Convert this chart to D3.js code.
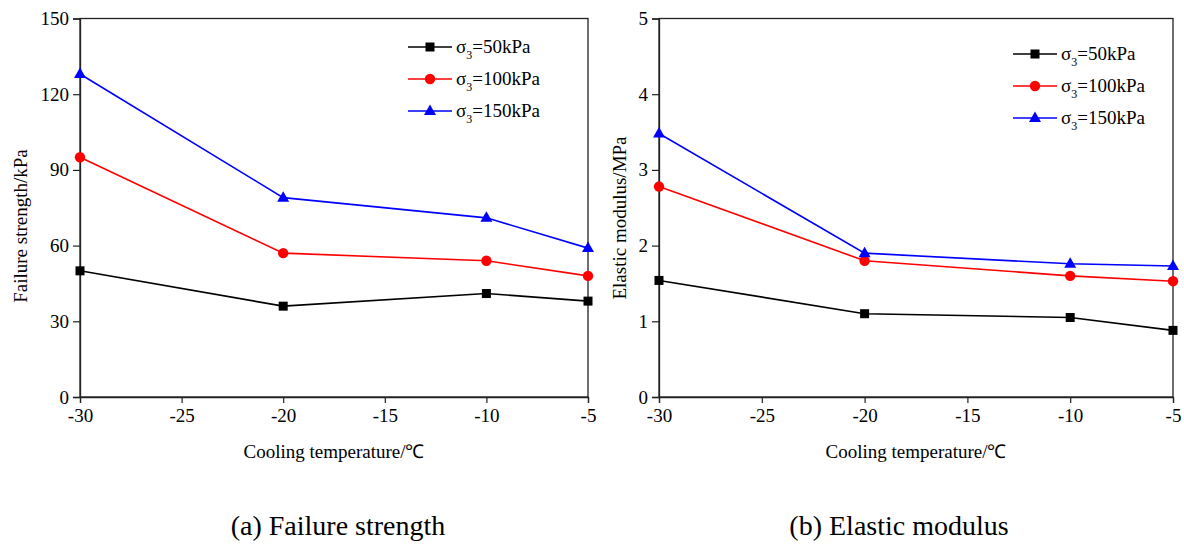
<!DOCTYPE html>
<html>
<head>
<meta charset="utf-8">
<script src="https://d3js.org/d3.v7.min.js"></script>
<style>
  body { margin: 0; background: #fff; }
  svg text { font-family: "Liberation Serif", "Times New Roman", serif; fill: #000; }
</style>
</head>
<body>
<svg id="chart" width="1184" height="545"></svg>
<script>
// cooling temperatures (x)
const temps = [-30, -20, -10, -5];
const xTicks = [-30, -25, -20, -15, -10, -5];

// series names (confining pressure)
const pressures = ["50kPa", "100kPa", "150kPa"];
const colors = ["#000000", "#ff0000", "#0000ff"];
const shapes = ["square", "circle", "triangle"];

// (a) failure strength, kPa
const strength50 = [50, 36, 41, 38];
const strength100 = [95, 57, 54, 48];
const strength150 = [128, 79, 71, 59];
const strengthTicks = [0, 30, 60, 90, 120, 150];

// (b) elastic modulus, MPa
const modulus50 = [1.54, 1.10, 1.05, 0.88];
const modulus100 = [2.78, 1.80, 1.60, 1.53];
const modulus150 = [3.48, 1.90, 1.76, 1.73];
const modulusTicks = [0, 1, 2, 3, 4, 5];

const svg = d3.select("#chart");

function marker(g, shape, color, cx, cy) {
    if (shape === "square") {
        g.append("rect").attr("x", cx - 4.5).attr("y", cy - 4.5)
            .attr("width", 9).attr("height", 9).attr("fill", color);
    } else if (shape === "circle") {
        g.append("circle").attr("cx", cx).attr("cy", cy).attr("r", 5.2).attr("fill", color);
    } else {
        g.append("path").attr("d", `M${cx},${cy - 6.5}L${cx + 6},${cy + 4}L${cx - 6},${cy + 4}Z`)
            .attr("fill", color);
    }
}

function panel(opts) {
    const {left, right, top, bottom, yMax, yTicks, series, yTitle, yTitleX, yTitleY, xTitleX, caption, captionX, legendX, legendY} = opts;

    const x = d3.scaleLinear().domain([-30, -5]).range([left, right]);
    const y = d3.scaleLinear().domain([0, yMax]).range([bottom, top]);

    const g = svg.append("g");

    // frame
    g.append("rect").attr("x", left).attr("y", top)
        .attr("width", right - left).attr("height", bottom - top)
        .attr("fill", "none").attr("stroke", "#222").attr("stroke-width", 1.3);

    const xAxis = g.append("g").attr("transform", `translate(0,${bottom})`)
        .call(d3.axisBottom(x).tickValues(xTicks).tickSize(6).tickPadding(6).tickFormat(d => String(d)));
    const yAxis = g.append("g").attr("transform", `translate(${left},0)`)
        .call(d3.axisLeft(y).tickValues(yTicks).tickSize(7).tickPadding(4).tickFormat(d => String(d)));
    [xAxis, yAxis].forEach(a => {
        a.select(".domain").attr("stroke", "#222").attr("stroke-width", 1.3);
        a.selectAll(".tick line").attr("stroke", "#222").attr("stroke-width", 1.2);
        a.selectAll(".tick text").attr("font-size", 19);
    });

    // axis titles
    g.append("text").attr("x", xTitleX).attr("y", bottom + 61)
        .attr("text-anchor", "middle").attr("font-size", 19)
        .text("Cooling temperature/℃");
    g.append("text")
        .attr("transform", `translate(${yTitleX},${yTitleY}) rotate(-90)`)
        .attr("text-anchor", "middle").attr("font-size", 19)
        .text(yTitle);

    // lines and markers
    const line = d3.line().x((d, i) => x(temps[i])).y(d => y(d));
    series.forEach((vals, s) => {
        g.append("path").datum(vals).attr("d", line)
            .attr("fill", "none").attr("stroke", colors[s]).attr("stroke-width", 1.6);
        vals.forEach((v, i) => marker(g, shapes[s], colors[s], x(temps[i]), y(v)));
    });

    // legend
    pressures.forEach((p, s) => {
        const ly = legendY + s * 32;
        g.append("line").attr("x1", legendX).attr("x2", legendX + 44)
            .attr("y1", ly).attr("y2", ly)
            .attr("stroke", colors[s]).attr("stroke-width", 1.6);
        marker(g, shapes[s], colors[s], legendX + 22, ly);
        const t = g.append("text").attr("x", legendX + 48).attr("y", ly + 6).attr("font-size", 19);
        t.append("tspan").text("σ");
        t.append("tspan").attr("dy", 6).attr("font-size", 12).text("3");
        t.append("tspan").attr("dy", -6).text("=" + p);
    });

    // caption
    g.append("text").attr("x", captionX).attr("y", 535)
        .attr("text-anchor", "middle").attr("font-size", 28)
        .text(caption);
}

panel({
    left: 80, right: 588, top: 18.5, bottom: 397,
    yMax: 150, yTicks: strengthTicks,
    series: [strength50, strength100, strength150],
    yTitle: "Failure strength/kPa", yTitleX: 27, yTitleY: 226, xTitleX: 334,
    caption: "(a) Failure strength", captionX: 338,
    legendX: 408, legendY: 47
});

panel({
    left: 659, right: 1173, top: 18.5, bottom: 397,
    yMax: 5, yTicks: modulusTicks,
    series: [modulus50, modulus100, modulus150],
    yTitle: "Elastic modulus/MPa", yTitleX: 626, yTitleY: 218, xTitleX: 916,
    caption: "(b) Elastic  modulus", captionX: 899,
    legendX: 1013, legendY: 54
});
</script>
</body>
</html>
